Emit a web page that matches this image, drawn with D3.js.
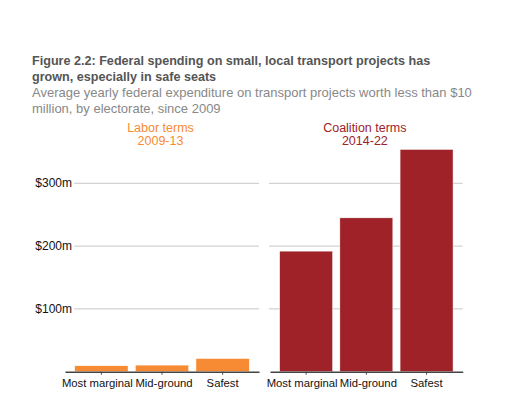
<!DOCTYPE html>
<html>
<head>
<meta charset="utf-8">
<script src="https://cdn.jsdelivr.net/npm/d3@7"></script>
<style>
  body { margin: 0; background: #fff; }
  text { font-family: "Liberation Sans", Arial, sans-serif; }
</style>
</head>
<body>
<div id="chart-container"></div>
<script>
// values, $m per year
var categories = ['Most marginal', 'Mid-ground', 'Safest'];
var laborValues = [9.5, 10.5, 21];
var coalitionValues = [192, 245, 354];
var yTicks = [100, 200, 300];
var panelTitles = [['Labor terms', '2009-13'], ['Coalition terms', '2014-22']];

var width = 520, height = 395;

var svg = d3.select('#chart-container').append('svg')
  .attr('width', width)
  .attr('height', height);

// title + subtitle
var title = svg.append('g').attr('transform', 'translate(32,0)');
title.selectAll('.t')
  .data(['Figure 2.2: Federal spending on small, local transport projects has', 'grown, especially in safe seats'])
  .enter().append('text')
  .attr('y', function(d, i) { return 65 + i * 15.5; })
  .attr('font-size', 12.6).attr('font-weight', 'bold').attr('fill', '#555')
  .text(function(d) { return d; });
title.selectAll('.s')
  .data(['Average yearly federal expenditure on transport projects worth less than $10', 'million, by electorate, since 2009'])
  .enter().append('text')
  .attr('y', function(d, i) { return 97 + i * 16; })
  .attr('font-size', 13).attr('fill', '#888')
  .text(function(d) { return d; });

var y = d3.scaleLinear().domain([0, 300]).range([371.7, 183.3]);

var panels = [
  { values: laborValues, range: [65, 259], gridStart: 74, color: '#f68b33', title: panelTitles[0] },
  { values: coalitionValues, range: [270, 462.7], gridStart: 269, color: '#9e2228', title: panelTitles[1] }
];

// y labels, only on the left
svg.selectAll('.ylab')
  .data(yTicks)
  .enter().append('text')
  .attr('x', 72)
  .attr('y', function(d) { return y(d) + 4; })
  .attr('text-anchor', 'end')
  .attr('font-size', 12)
  .attr('fill', '#111')
  .text(function(d) { return '$' + d + 'm'; });

var labelShift = [-4, 2, 0];

panels.forEach(function(p) {
  var x = d3.scaleBand()
    .domain(categories)
    .range(p.range)
    .paddingInner(0.12)
    .paddingOuter(0.16);

  var g = svg.append('g');

  // grid
  g.selectAll('.grid')
    .data(yTicks)
    .enter().append('line')
    .attr('x1', p.gridStart).attr('x2', p.range[1])
    .attr('y1', function(d) { return y(d); })
    .attr('y2', function(d) { return y(d); })
    .attr('stroke', '#c8c8cc').attr('stroke-width', 1);

  // bars
  g.selectAll('rect')
    .data(p.values)
    .enter().append('rect')
    .attr('x', function(d, i) { return x(categories[i]); })
    .attr('width', x.bandwidth())
    .attr('y', function(d) { return y(d); })
    .attr('height', function(d) { return y(0) - y(d); })
    .attr('fill', p.color)
    .attr('stroke', '#fff').attr('stroke-width', 0.5);

  // x axis
  var xAxis = d3.axisBottom(x).tickSize(3).tickSizeOuter(0).tickPadding(4);
  var ax = g.append('g')
    .attr('transform', 'translate(0,' + y(0) + ')')
    .call(xAxis);
  ax.select('.domain').attr('stroke', '#444').attr('stroke-width', 1.4);
  ax.selectAll('.tick line').attr('stroke', '#444');
  ax.selectAll('.tick text')
    .attr('font-size', 11.3)
    .attr('fill', '#111')
    .attr('font-family', '"Liberation Sans", Arial, sans-serif')
    .attr('dx', function(d, i) { return labelShift[i]; });

  // panel heading
  var cx = (p.range[0] + p.range[1]) / 2 - 1.5;
  g.selectAll('.ph')
    .data(p.title)
    .enter().append('text')
    .attr('x', cx)
    .attr('y', function(d, i) { return 132 + i * 12.5; })
    .attr('text-anchor', 'middle')
    .attr('font-size', 12.5)
    .attr('fill', p.color)
    .text(function(d) { return d; });
});
</script>
</body>
</html>
